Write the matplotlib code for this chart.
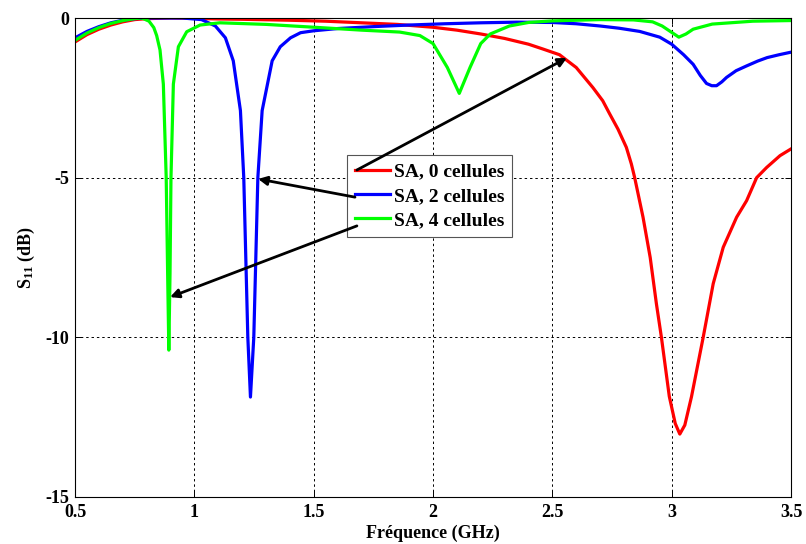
import matplotlib
matplotlib.use("Agg")
import matplotlib.pyplot as plt

# curve data (GHz, dB)
freq_0 = [0.50, 0.55, 0.60, 0.65, 0.70, 0.75, 0.80, 0.90, 1.00, 1.10, 1.20, 1.40, 1.55, 1.70,
          1.85, 2.00, 2.10, 2.20, 2.30, 2.40, 2.46, 2.53, 2.60, 2.67, 2.711, 2.74, 2.775, 2.81,
          2.831, 2.845, 2.88, 2.91, 2.936, 2.957, 2.99, 3.015, 3.034, 3.055, 3.083, 3.132, 3.174,
          3.216, 3.272, 3.314, 3.356, 3.398, 3.454, 3.50]
s11_0 = [-0.75, -0.52, -0.35, -0.22, -0.12, -0.05, -0.02, 0.0, -0.01, -0.03, -0.04, -0.07, -0.10,
         -0.15, -0.20, -0.29, -0.38, -0.50, -0.64, -0.82, -0.97, -1.15, -1.55, -2.18, -2.59, -3.0,
         -3.48, -4.05, -4.57, -5.0, -6.24, -7.5, -8.95, -10.0, -11.85, -12.7, -13.03, -12.75,
         -11.86, -10.0, -8.32, -7.18, -6.24, -5.72, -5.0, -4.68, -4.31, -4.10]

freq_2 = [0.50, 0.55, 0.60, 0.65, 0.70, 0.75, 0.80, 0.95, 1.03, 1.088, 1.13, 1.163, 1.193, 1.207,
          1.224, 1.235, 1.249, 1.266, 1.284, 1.326, 1.36, 1.403, 1.445, 1.50, 1.60, 1.75, 1.90,
          2.05, 2.20, 2.35, 2.50, 2.60, 2.70, 2.78, 2.866, 2.95, 3.00, 3.05, 3.09, 3.12, 3.146,
          3.168, 3.188, 3.21, 3.23, 3.27, 3.314, 3.36, 3.40, 3.45, 3.50]
s11_2 = [-0.62, -0.42, -0.27, -0.15, -0.07, -0.02, 0.0, 0.0, -0.05, -0.25, -0.62, -1.34, -2.9,
         -5.0, -10.0, -11.87, -10.0, -5.0, -2.9, -1.34, -0.9, -0.62, -0.46, -0.40, -0.33, -0.27,
         -0.22, -0.18, -0.15, -0.13, -0.14, -0.18, -0.25, -0.32, -0.42, -0.60, -0.82, -1.15,
         -1.45, -1.8, -2.05, -2.12, -2.12, -2.0, -1.86, -1.65, -1.50, -1.35, -1.24, -1.15, -1.07]

freq_4 = [0.50, 0.55, 0.60, 0.65, 0.70, 0.75, 0.78, 0.81, 0.83, 0.842, 0.856, 0.87, 0.882, 0.888,
          0.893, 0.898, 0.902, 0.912, 0.933, 0.968, 1.024, 1.107, 1.30, 1.526, 1.70, 1.86, 1.945,
          2.00, 2.06, 2.11, 2.155, 2.20, 2.24, 2.32, 2.40, 2.50, 2.70, 2.84, 2.92, 2.96, 3.00,
          3.03, 3.06, 3.09, 3.17, 3.34, 3.50]
s11_4 = [-0.70, -0.47, -0.30, -0.17, -0.08, -0.02, 0.0, -0.10, -0.30, -0.55, -1.0, -2.07, -5.0,
         -8.0, -10.4, -8.0, -5.0, -2.07, -0.9, -0.43, -0.22, -0.15, -0.20, -0.30, -0.38, -0.44,
         -0.55, -0.80, -1.55, -2.36, -1.55, -0.80, -0.50, -0.25, -0.14, -0.09, -0.05, -0.06,
         -0.12, -0.25, -0.45, -0.60, -0.50, -0.35, -0.19, -0.10, -0.08]

labels = ["SA, 0 cellules", "SA, 2 cellules", "SA, 4 cellules"]
colors = ["#ff0000", "#0000ff", "#00ff00"]
xticks = [0.5, 1, 1.5, 2, 2.5, 3, 3.5]
xtick_labels = ["0.5", "1", "1.5", "2", "2.5", "3", "3.5"]
yticks = [-15, -10, -5, 0]
ytick_labels = ["-15", "-10", "-5", "0"]

plt.rcParams['font.family'] = ['Liberation Serif', 'DejaVu Serif']
plt.rcParams['font.weight'] = 'bold'
plt.rcParams['mathtext.fontset'] = 'custom'
plt.rcParams['mathtext.bf'] = 'Liberation Serif:bold'
plt.rcParams['mathtext.rm'] = 'Liberation Serif:bold'
plt.rcParams['mathtext.default'] = 'bf'

fig = plt.figure(figsize=(8.06, 5.44), dpi=100)
ax = fig.add_axes([0.0931, 0.0864, 0.8883, 0.8805])

for fx, fy, lab, col in zip([freq_0, freq_2, freq_4], [s11_0, s11_2, s11_4], labels, colors):
    ax.plot(fx, fy, color=col, lw=2.3, label=lab, solid_joinstyle='round')

ax.set_xlim(0.5, 3.5)
ax.set_ylim(-15, 0)
ax.set_xticks(xticks)
ax.set_xticklabels(xtick_labels)
ax.set_yticks(yticks)
ax.set_yticklabels(ytick_labels)
ax.grid(True, color='k', linestyle=(0, (2.5, 3)), linewidth=0.7)
ax.tick_params(direction='in', top=True, right=True, length=4, width=0.7, labelsize=13)
ax.tick_params(axis='x', pad=5)
ax.tick_params(axis='y', pad=4)
for s in ax.spines.values():
    s.set_linewidth(0.8)

ax.set_xlabel("Fréquence (GHz)", fontsize=13, fontweight='bold', labelpad=3)
ax.set_ylabel(r"S$_{11}$ (dB)", fontsize=13, fontweight='bold', labelpad=6)

leg = ax.legend(loc='upper left', bbox_to_anchor=(347 / 806, 1 - 155 / 544),
                bbox_transform=fig.transFigure, fancybox=False, framealpha=1,
                edgecolor='#555555', prop={'size': 14, 'weight': 'bold'},
                handlelength=1.8, handletextpad=0.2, borderpad=0.4,
                labelspacing=0.35, borderaxespad=0)
leg.get_frame().set_linewidth(0.8)

# arrows from legend entries to the resonances
arrow = dict(arrowstyle='-|>', color='k', lw=2, mutation_scale=13, shrinkA=0, shrinkB=0)
ax.annotate("", xy=(2.561, -1.25), xytext=(1.681, -4.76), arrowprops=arrow, zorder=10)
ax.annotate("", xy=(1.267, -5.04), xytext=(1.673, -5.61), arrowprops=arrow, zorder=10)
ax.annotate("", xy=(0.898, -8.74), xytext=(1.681, -6.51), arrowprops=arrow, zorder=10)

fig.savefig("out.png", dpi=100)
